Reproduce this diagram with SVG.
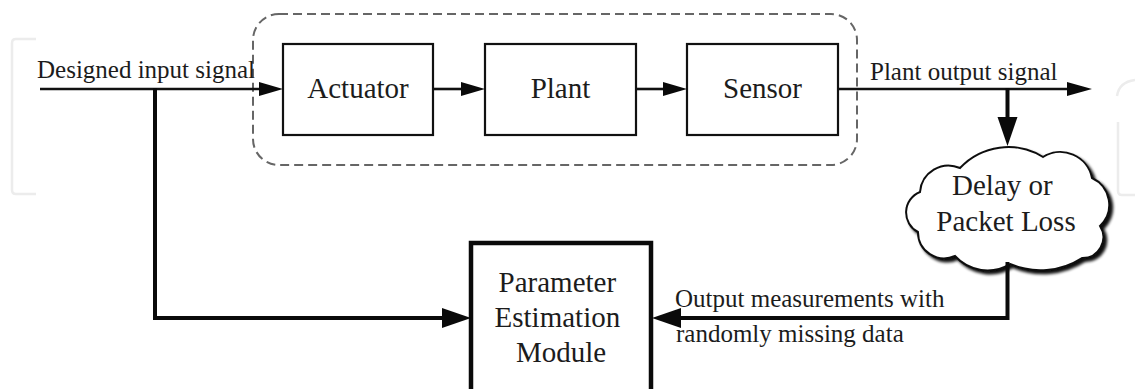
<svg xmlns="http://www.w3.org/2000/svg" width="1135" height="389" viewBox="0 0 1135 389">
  <style>
    text { font-family: 'Liberation Serif', 'Times New Roman', Times, 'DejaVu Serif', serif; fill: #1c1c1c; }
    .box { fill: #ffffff; stroke: #111; stroke-width: 2.2; }
    .thin { fill: none; stroke: #111; stroke-width: 2.6; }
    .thick { fill: none; stroke: #0a0a0a; stroke-width: 4; }
    .head { fill: #0a0a0a; }
    .wm { fill: none; stroke: #ececec; stroke-width: 2.5; }
  </style>
  <defs>
    <filter id="cloudShadow" x="-10%" y="-10%" width="130%" height="130%">
      <feGaussianBlur in="SourceAlpha" stdDeviation="1.6" result="b"/>
      <feOffset in="b" dx="3" dy="3" result="o"/>
      <feComponentTransfer in="o" result="s">
        <feFuncA type="linear" slope="0.95"/>
      </feComponentTransfer>
      <feMerge>
        <feMergeNode in="s"/>
        <feMergeNode in="SourceGraphic"/>
      </feMerge>
    </filter>
  </defs>

  <rect width="1135" height="389" fill="#ffffff"/>

  <!-- faint corner brackets -->
  <path class="wm" d="M36 39 H16 Q12 39 12 43 V190 Q12 194 16 194 H36"/>
  <path class="wm" d="M1117 96 Q1119 82 1135 80 M1118 122 V191 Q1118 195 1122 195 H1135"/>

  <!-- process boundary -->
  <g id="process-boundary">
    <rect x="253" y="14" width="604" height="151" rx="26" ry="26" fill="none" stroke="#666" stroke-width="2" stroke-dasharray="9 5"/>
  </g>

  <g id="actuator">
    <rect class="box" x="283" y="44" width="150" height="91"/>
    <text x="358" y="98" font-family="Liberation Serif, serif" font-size="29" text-anchor="middle">Actuator</text>
  </g>

  <g id="plant">
    <rect class="box" x="485" y="44" width="151" height="91"/>
    <text x="560.5" y="98" font-family="Liberation Serif, serif" font-size="29" text-anchor="middle">Plant</text>
  </g>

  <g id="sensor">
    <rect class="box" x="687" y="44" width="151" height="91"/>
    <text x="762.5" y="98" font-family="Liberation Serif, serif" font-size="29" text-anchor="middle">Sensor</text>
  </g>

  <g id="estimator">
    <rect x="471" y="243" width="180" height="160" fill="#ffffff" stroke="#0a0a0a" stroke-width="4.5"/>
    <text font-family="Liberation Serif, serif" font-size="29" text-anchor="middle">
      <tspan x="561" y="292">Parameter</tspan>
      <tspan x="561" y="327">Estimation</tspan>
      <tspan x="561" y="362">Module</tspan>
    </text>
  </g>

  <g id="network">
    <path filter="url(#cloudShadow)" fill="#ffffff" stroke="#111" stroke-width="2"
      d="M918 232 A22 22 0 0 1 920 192 A28.6 28.6 0 0 1 960 168 A66 66 0 0 1 1043 157 A32.4 32.4 0 0 1 1092 178 A29.3 29.3 0 0 1 1100 226 A20.8 20.8 0 0 1 1082 258 A77 77 0 0 1 1010 264 A43.6 43.6 0 0 1 955 256 A26.2 26.2 0 0 1 918 232 Z"/>
    <text font-family="Liberation Serif, serif" font-size="29" text-anchor="middle">
      <tspan x="1006" y="195">Delay or</tspan>
      <tspan x="1006" y="231">Packet Loss</tspan>
    </text>
  </g>

  <g id="connectors">
    <!-- input path into actuator -->
    <line class="thin" x1="40" y1="89" x2="261" y2="89"/>
    <polygon class="head" points="283,89 259,82 259,96"/>
    <!-- actuator to plant -->
    <line class="thin" x1="433" y1="89" x2="463" y2="89"/>
    <polygon class="head" points="485,89 461,82 461,96"/>
    <!-- plant to sensor -->
    <line class="thin" x1="636" y1="89" x2="665" y2="89"/>
    <polygon class="head" points="687,89 663,82 663,96"/>
    <!-- plant output -->
    <line class="thin" x1="838" y1="89" x2="1070" y2="89"/>
    <polygon class="head" points="1092,89 1067,82 1067,96"/>
    <!-- output tap down to network -->
    <line class="thick" x1="1007.5" y1="88" x2="1007.5" y2="120"/>
    <polygon class="head" points="1007.5,146 997.5,117 1017.5,117"/>
    <!-- input tap to estimator -->
    <polyline class="thick" points="155,88 155,318 445,318"/>
    <polygon class="head" points="471,318 442,308 442,328"/>
    <!-- received measurements to estimator -->
    <polyline class="thick" points="1007.5,262 1007.5,318 678,318"/>
    <polygon class="head" points="652,318 681,308 681,328"/>
  </g>

  <g id="edge-labels">
    <text x="37" y="78" font-family="Liberation Serif, serif" font-size="25">Designed input signal</text>
    <text x="870" y="80" font-family="Liberation Serif, serif" font-size="25">Plant output signal</text>
    <text x="675" y="307" font-family="Liberation Serif, serif" font-size="25">Output measurements with</text>
    <text x="676" y="342" font-family="Liberation Serif, serif" font-size="25">randomly missing data</text>
  </g>
</svg>
